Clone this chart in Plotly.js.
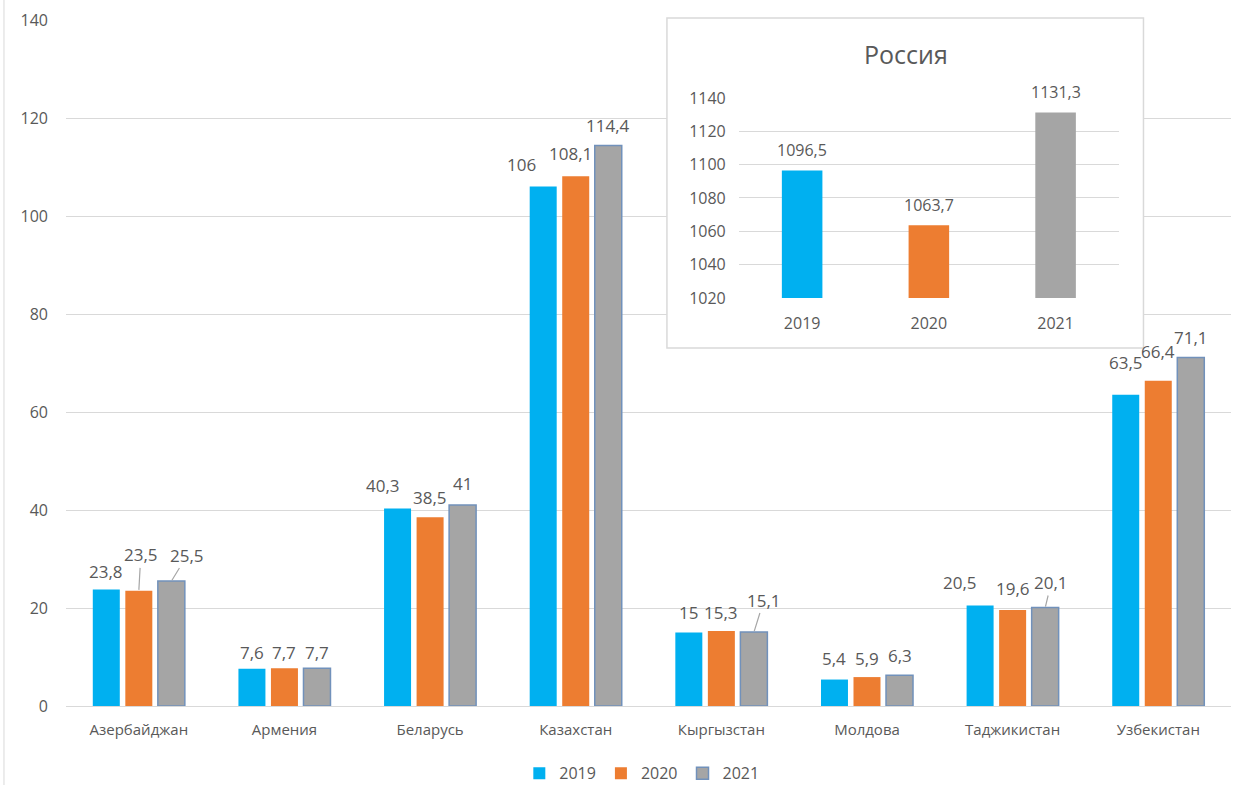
<!DOCTYPE html>
<html>
<head>
<meta charset="utf-8">
<script src="https://cdn.plot.ly/plotly-3.0.1.min.js"></script>
<style>html,body{margin:0;padding:0;background:#fff;}#chart{width:1234px;height:785px;}</style>
</head>
<body>
<div id="chart"></div>
<script>
const countries = ['Азербайджан','Армения','Беларусь','Казахстан','Кыргызстан','Молдова','Таджикистан','Узбекистан'];
const v2019 = [23.8, 7.6, 40.3, 106, 15, 5.4, 20.5, 63.5];
const v2020 = [23.5, 7.7, 38.5, 108.1, 15.3, 5.9, 19.6, 66.4];
const v2021 = [25.5, 7.7, 41, 114.4, 15.1, 6.3, 20.1, 71.1];
const russiaYears = ['2019','2020','2021'];
const russiaValues = [1096.5, 1063.7, 1131.3];
const seriesNames = ['2019','2020','2021'];

// data-label placement (pixel nudges, as hand-placed in the original)
const labelDx = [[0,0,-14,-22,0,0,-20,0],[2,0,0,-5,0,0,0,0],[16,0,0,0,10,0,6,0]];
const labelDy = [[18,16,23,22,20,21,23,32],[36,16,20,23,19,19,21,29],[26,16,22,20,32,20,25,20]];
const leader  = [[0,0,0,0,0,0,0,0],[1,0,0,0,0,0,0,0],[1,0,0,0,1,0,1,0]];

const colors = ['#00b0f0', '#ed7d31', '#a5a5a5'];
const fmt = v => String(v).replace('.', ',');
const FONT = 'Open Sans, Noto Sans, sans-serif';
const TXT = '#595959';

const W = 1234, H = 785, ML = 66, MR = 0, MT = 20, MB = 79;
const BARGAP = 0.33, GROUPGAP = 0.17;
const slot = (W - ML - MR) / countries.length * (1 - BARGAP) / 3;

const seriesVals = [v2019, v2020, v2021];
const main = seriesVals.map((vals, i) => ({
  type: 'bar', x: countries, y: vals, name: seriesNames[i],
  marker: {color: colors[i], line: {color: i === 2 ? '#7191bb' : colors[i], width: i === 2 ? 1.5 : 0}},
  xaxis: 'x', yaxis: 'y', hoverinfo: 'x+y'
}));

const backdrop = {type: 'scatter', x: [], y: [], xaxis: 'x2', yaxis: 'y2', showlegend: false, hoverinfo: 'skip'};

const inset = {
  type: 'bar', x: russiaYears, y: russiaValues, showlegend: false,
  marker: {color: colors}, width: 0.32,
  xaxis: 'x3', yaxis: 'y3'
};

const annotations = [
  {text: 'Россия', xref: 'paper', yref: 'paper', x: 0.719, y: 0.951, showarrow: false,
   font: {family: FONT, size: 25, color: TXT}, xanchor: 'center', yanchor: 'middle'}
];

seriesVals.forEach((vals, i) => {
  vals.forEach((v, j) => {
    const base = {
      text: fmt(v), xref: 'x', yref: 'y', x: countries[j], y: v,
      font: {family: FONT, size: 17, color: TXT}
    };
    const off = (i - 1) * slot;
    if (leader[i][j]) {
      annotations.push(Object.assign(base, {
        showarrow: true, arrowhead: 0, arrowwidth: 1.2, arrowcolor: '#a6a6a6',
        xshift: off, ax: labelDx[i][j], ay: -labelDy[i][j], standoff: 1
      }));
    } else {
      annotations.push(Object.assign(base, {
        showarrow: false, xshift: off + labelDx[i][j], yshift: labelDy[i][j],
        xanchor: 'center', yanchor: 'middle'
      }));
    }
  });
});

russiaValues.forEach((v, j) => {
  annotations.push({
    text: fmt(v), xref: 'x3', yref: 'y3', x: russiaYears[j], y: v, showarrow: false,
    yshift: 20, xanchor: 'center', yanchor: 'middle',
    font: {family: FONT, size: 16, color: TXT}
  });
});

const layout = {
  width: W, height: H,
  margin: {l: ML, r: MR, t: MT, b: MB, autoexpand: false},
  paper_bgcolor: '#ffffff', plot_bgcolor: '#ffffff',
  font: {family: FONT, color: TXT, size: 14},
  barmode: 'group', bargap: BARGAP, bargroupgap: GROUPGAP,
  xaxis: {
    domain: [0, 0.9975], showgrid: false, showline: false, zeroline: false,
    ticks: '', tickfont: {size: 15, color: TXT}, ticklabelstandoff: 13
  },
  yaxis: {
    domain: [0, 1], range: [0, 140], dtick: 20, showgrid: true, gridcolor: '#d9d9d9', gridwidth: 1,
    zeroline: true, zerolinecolor: '#d9d9d9', showline: false, ticks: '',
    tickfont: {size: 16, color: TXT}, ticklabelstandoff: 17
  },
  xaxis2: {domain: [0.5145, 0.9225], anchor: 'y2', visible: false, range: [0, 1]},
  yaxis2: {domain: [0.5219, 1.0], anchor: 'x2', visible: false, range: [0, 1]},
  xaxis3: {
    domain: [0.576, 0.9015], anchor: 'y3', showgrid: false, zeroline: false, showline: false, ticks: '',
    tickfont: {size: 16, color: TXT}, ticklabelstandoff: 14
  },
  yaxis3: {
    domain: [0.5948, 0.8863], anchor: 'x3', range: [1020, 1140], dtick: 20,
    showgrid: true, gridcolor: '#d9d9d9', zeroline: false, showline: false, ticks: '',
    tickfont: {size: 16, color: TXT}, ticklabelstandoff: 12
  },
  legend: {
    orientation: 'h', x: 0.493, xanchor: 'center', y: -0.098, yanchor: 'middle',
    font: {size: 16, color: TXT}, traceorder: 'normal'
  },
  shapes: [
    {type: 'rect', xref: 'paper', yref: 'paper', x0: 0.5145, x1: 0.9225, y0: 0.5219, y1: 1.0029,
     fillcolor: 'rgba(0,0,0,0)', line: {color: '#d9d9d9', width: 1.5}},
    {type: 'line', xref: 'paper', yref: 'paper', x0: -0.0531, x1: -0.0531, y0: -0.2, y1: 1.1,
     line: {color: '#d9d9d9', width: 1}}
  ],
  annotations: annotations
};

Plotly.newPlot('chart', [...main, backdrop, inset], layout, {displayModeBar: false, staticPlot: true});
</script>
</body>
</html>
